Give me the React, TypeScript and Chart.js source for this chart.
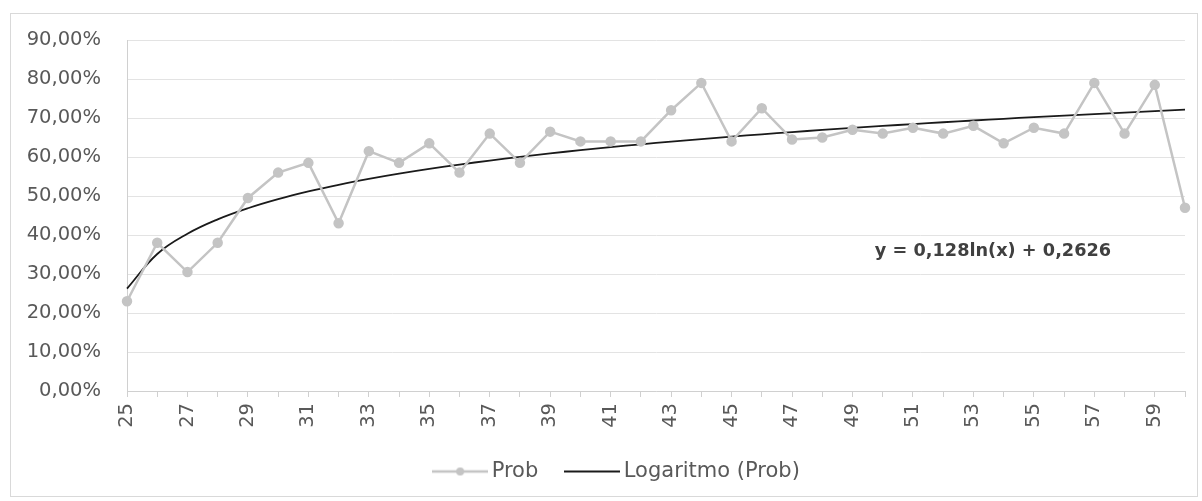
import React, { useEffect, useRef } from "react";
import { Chart, registerables } from "chart.js";

Chart.register(...registerables);

// ---- Data ----
const categories = [
  "25", "26", "27", "28", "29", "30", "31", "32", "33", "34", "35", "36",
  "37", "38", "39", "40", "41", "42", "43", "44", "45", "46", "47", "48",
  "49", "50", "51", "52", "53", "54", "55", "56", "57", "58", "59", "60",
];
const probValues = [
  23, 38, 30.5, 38, 49.5, 56, 58.5, 43, 61.5, 58.5, 63.5, 56,
  66, 58.5, 66.5, 64, 64, 64, 72, 79, 64, 72.5, 64.5, 65,
  67, 66, 67.5, 66, 68, 63.5, 67.5, 66, 79, 66, 78.5, 47,
];
// Trendline as printed on the chart: y = 0,128 ln(x) + 0,2626 (x = 1..n)
const trendSlope = 0.128;
const trendIntercept = 0.2626;
const trendValues = categories.map((_, i) => (trendSlope * Math.log(i + 1) + trendIntercept) * 100);
const yMax = 90;
const yStep = 10;
const seriesNames = ["Prob", "Logaritmo (Prob)"];
const equationText = "y = 0,128ln(x) + 0,2626";

const FONT = "'DejaVu Sans', sans-serif";
const TEXT_COLOR = "#595959";
const PROB_COLOR = "#c4c4c4";
const TREND_COLOR = "#1a1a1a";
const GRID_COLOR = "#e3e3e3";

function makeIcon(color: string, lineWidth: number, dot: boolean) {
  const c = document.createElement("canvas");
  c.width = 56;
  c.height = 12;
  const ctx = c.getContext("2d")!;
  ctx.strokeStyle = color;
  ctx.lineWidth = lineWidth;
  ctx.beginPath();
  ctx.moveTo(0, 6);
  ctx.lineTo(56, 6);
  ctx.stroke();
  if (dot) {
    ctx.fillStyle = color;
    ctx.beginPath();
    ctx.arc(28, 6, 4, 0, Math.PI * 2);
    ctx.fill();
  }
  return c;
}

const equationPlugin = {
  id: "equationLabel",
  afterLayout(chart: any) {
    // let y tick labels extend to the chart's left edge without clipping
    chart.scales.y.left = 10;
  },
  afterDatasetsDraw(chart: any) {
    const { ctx, scales } = chart;
    const x = scales.x.getPixelForValue(24.74);
    const y = scales.y.getPixelForValue(35.8);
    ctx.save();
    ctx.font = `bold 17.7px ${FONT}`;
    ctx.fillStyle = "#404040";
    ctx.textAlign = "left";
    ctx.textBaseline = "middle";
    ctx.fillText(equationText, x, y);
    ctx.restore();
  },
};

export default function App() {
  const canvasRef = useRef<HTMLCanvasElement | null>(null);

  useEffect(() => {
    if (!canvasRef.current) return;
    const probIcon = makeIcon(PROB_COLOR, 2.5, true);
    const trendIcon = makeIcon(TREND_COLOR, 1.8, false);
    const chart = new Chart(canvasRef.current, {
      type: "line",
      data: {
        labels: categories,
        datasets: [
          {
            label: seriesNames[0],
            data: probValues,
            borderColor: PROB_COLOR,
            backgroundColor: PROB_COLOR,
            borderWidth: 2.5,
            pointRadius: 4,
            pointBackgroundColor: PROB_COLOR,
            pointBorderColor: PROB_COLOR,
            tension: 0,
          },
          {
            label: seriesNames[1],
            data: trendValues,
            borderColor: TREND_COLOR,
            backgroundColor: TREND_COLOR,
            borderWidth: 1.8,
            pointRadius: 0,
            tension: 0.4,
          },
        ],
      },
      options: {
        responsive: false,
        animation: false,
        layout: { padding: { left: 54, right: 17, top: 40, bottom: 9 } },
        scales: {
          x: {
            offset: false,
            grid: {
              drawOnChartArea: false,
              drawTicks: true,
              tickLength: 6,
              color: "#d0d0d0",
            },
            border: { color: "#d0d0d0" },
            ticks: {
              autoSkip: false,
              maxRotation: 90,
              minRotation: 90,
              padding: 6,
              color: TEXT_COLOR,
              font: { family: FONT, size: 19.5 },
              callback: (_v: any, i: number) => (i % 2 === 0 ? categories[i] : ""),
            },
            afterFit: (scale: any) => {
              scale.height = 37;
              scale.paddingLeft = 0;
              scale.paddingRight = 0;
            },
          },
          y: {
            min: 0,
            max: yMax,
            grid: { color: GRID_COLOR, drawTicks: false },
            border: { color: "#d0d0d0" },
            ticks: {
              stepSize: yStep,
              padding: 26,
              color: TEXT_COLOR,
              font: { family: FONT, size: 19.5 },
              callback: (v: any) => Number(v).toFixed(2).replace(".", ",") + "%",
            },
            afterFit: (scale: any) => {
              scale.width = 73;
            },
          },
        },
        plugins: {
          legend: {
            position: "bottom",
            labels: {
              usePointStyle: true,
              pointStyleWidth: 42,
              padding: 33,
              color: TEXT_COLOR,
              font: { family: FONT, size: 21 },
              generateLabels: (ch: any) => {
                const items = (Chart as any).defaults.plugins.legend.labels.generateLabels(ch);
                items[0].pointStyle = probIcon;
                items[1].pointStyle = trendIcon;
                return items;
              },
            },
          },
          tooltip: { enabled: false },
        },
      },
      plugins: [equationPlugin],
    });
    return () => chart.destroy();
  }, []);

  return (
    <div style={{ position: "absolute", left: 0, top: 0, width: 1202, height: 501, background: "#fff" }}>
      <div
        style={{
          position: "absolute",
          left: 10,
          top: 13,
          width: 1186,
          height: 482,
          border: "1px solid #d9d9d9",
        }}
      />
      <canvas ref={canvasRef} width={1202} height={501} style={{ position: "absolute", left: 0, top: 0 }} />
    </div>
  );
}
